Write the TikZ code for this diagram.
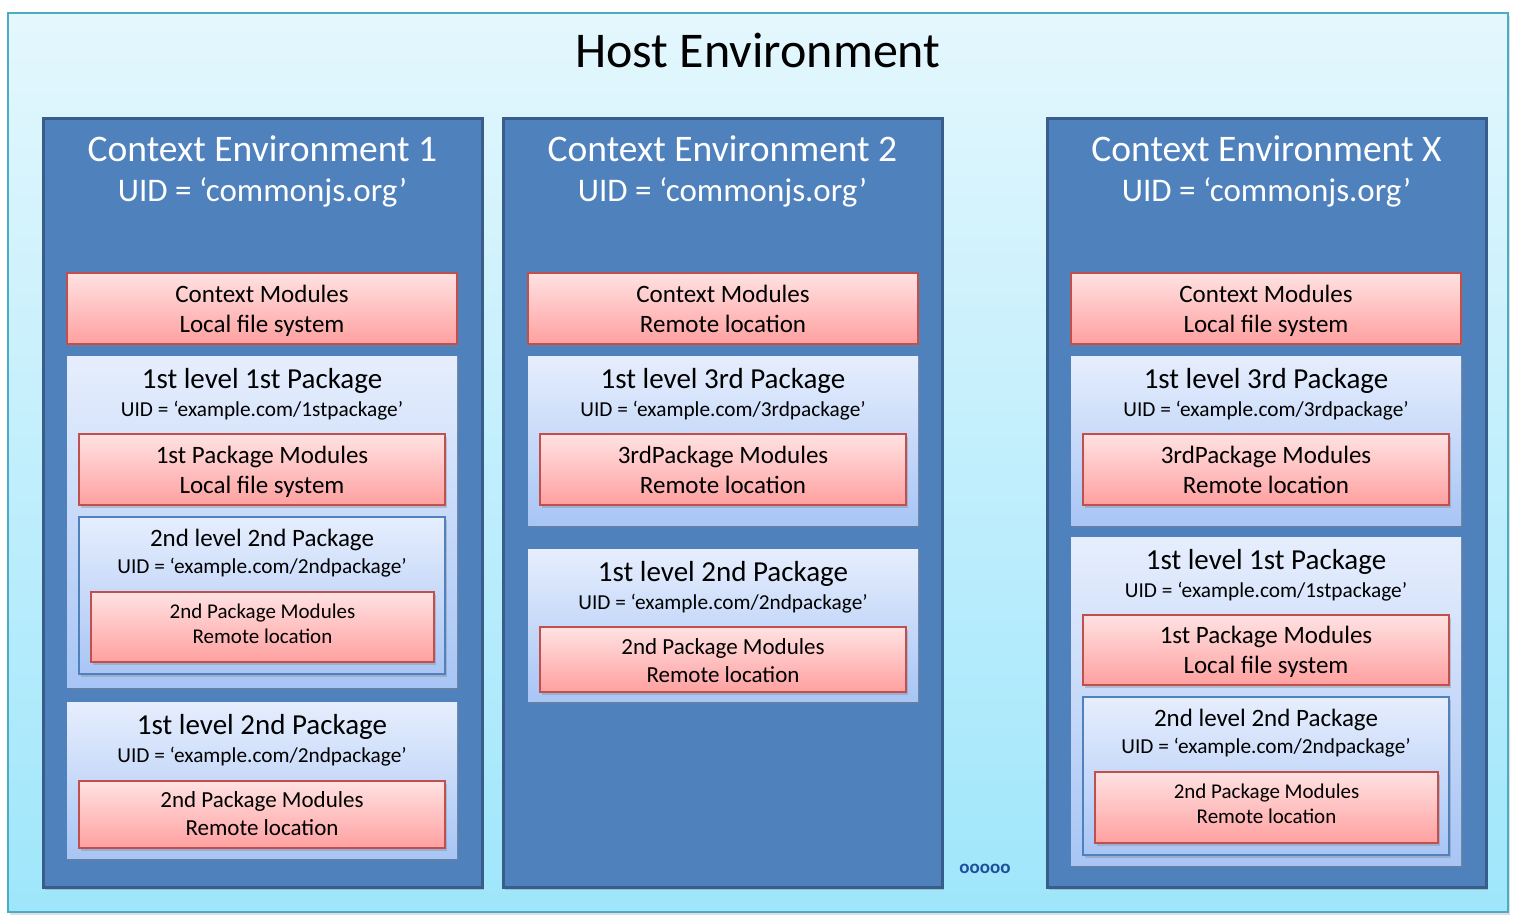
\documentclass[tikz,border=0pt]{standalone}
\usepackage{fontspec}
\setmainfont{Carlito}
\usetikzlibrary{shadows}
\definecolor{hostline}{HTML}{4BACC6}
\definecolor{hosttop}{HTML}{E4F7FD}
\definecolor{hostbot}{HTML}{9FE6FB}
\definecolor{envfill}{HTML}{4F81BD}
\definecolor{envline}{HTML}{385D8A}
\definecolor{pkgtop}{HTML}{E6EEFD}
\definecolor{pkgbot}{HTML}{A8C5F5}
\definecolor{modtop}{HTML}{FFE2E2}
\definecolor{modbot}{HTML}{FFA0A0}
\definecolor{modline}{HTML}{C0504D}
\definecolor{dotcol}{HTML}{1F4E9C}
\newcommand\mybox[6]{%
  \node[#1, minimum width={(#5-#3)*1pt}, minimum height={(#6-#4)*1pt}] (#2) at ({(#3+#5)/2},{(#4+#6)/2}) {};}
\newcommand\modtxt[4]{% style, box name, shift, text
  \node[#1] (#2t) at ([yshift=#3]#2.center) {#4};}
\tikzset{
  shd/.style={drop shadow={opacity=0.35, shadow xshift=1.5pt, shadow yshift=-2.5pt}},
  hostbox/.style={draw=hostline, line width=2pt, top color=hosttop, bottom color=hostbot, inner sep=0pt,
    drop shadow={opacity=0.25, shadow xshift=2pt, shadow yshift=-3pt}},
  envbox/.style={draw=envline, line width=3pt, fill=envfill, inner sep=0pt, shd},
  pkgbox/.style={top color=pkgtop, bottom color=pkgbot, inner sep=0pt, shd},
  subbox/.style={draw=envfill, line width=2pt, top color=pkgtop, bottom color=pkgbot, inner sep=0pt, shd},
  modbox/.style={draw=modline, line width=2pt, top color=modtop, bottom color=modbot, inner sep=0pt, shd},
  tA/.style={align=center, inner sep=0pt, font=\fontsize{25}{30}\selectfont},
  tB/.style={align=center, inner sep=0pt, font=\fontsize{23}{28}\selectfont},
  tC/.style={align=center, inner sep=0pt, font=\fontsize{21}{25}\selectfont},
  hosttitle/.style={font=\fontsize{50}{58}\selectfont, inner sep=0pt},
  envtitle/.style={font=\fontsize{37.5}{44}\selectfont, text=white, inner sep=0pt},
  envuid/.style={font=\fontsize{33}{39}\selectfont, text=white, inner sep=0pt},
  pkgtitle/.style={font=\fontsize{29}{34}\selectfont, inner sep=0pt},
  subtitle/.style={font=\fontsize{25}{30}\selectfont, inner sep=0pt},
  pkguid/.style={font=\fontsize{21.3}{25}\selectfont, inner sep=0pt},
}
\begin{document}
\begin{tikzpicture}[x=1pt,y=-1pt]
\useasboundingbox[fill=white] (0,0) rectangle (1516,922);
% host
\mybox{hostbox}{host}{8}{13}{1508}{912}
\node[hosttitle] (hostT) at (758,50) {Host Environment};
% environments
\mybox{envbox}{env1}{43}{118}{482}{887}
\mybox{envbox}{env2}{503}{118}{942}{887}
\mybox{envbox}{envX}{1047}{118}{1486}{887}
\node[envtitle] (env1T) at (262.5,149) {Context Environment 1};
\node[envuid] (env1U) at (262.5,192.5) {UID = ‘commonjs.org’};
\node[envtitle] (env2T) at (722.5,149) {Context Environment 2};
\node[envuid] (env2U) at (722.5,192.5) {UID = ‘commonjs.org’};
\node[envtitle] (envXT) at (1266.5,149) {Context Environment X};
\node[envuid] (envXU) at (1266.5,192.5) {UID = ‘commonjs.org’};
% ---- env 1
\mybox{modbox}{c1}{67}{273}{457}{344}
\modtxt{tA}{c1}{-2pt}{Context Modules\\Local file system}
\mybox{pkgbox}{p11}{67}{356}{457}{687}
\node[pkgtitle] (p11T) at (262,381) {1st level 1st Package};
\node[pkguid] (p11U) at (262,411) {UID = ‘example.com/1stpackage’};
\mybox{modbox}{m11}{79}{434}{445}{505}
\modtxt{tA}{m11}{-2pt}{1st Package Modules\\Local file system}
\mybox{subbox}{s12}{79}{517}{445}{674}
\node[subtitle] (s12T) at (262,540) {2nd level 2nd Package};
\node[pkguid] (s12U) at (262,568) {UID = ‘example.com/2ndpackage’};
\mybox{modbox}{m12}{91}{592}{434}{662}
\modtxt{tC}{m12}{3pt}{2nd Package Modules\\Remote location}
\mybox{pkgbox}{p12}{67}{702}{457}{858}
\node[pkgtitle] (p12T) at (262,727) {1st level 2nd Package};
\node[pkguid] (p12U) at (262,757) {UID = ‘example.com/2ndpackage’};
\mybox{modbox}{m13}{79}{781}{445}{848}
\modtxt{tB}{m13}{1pt}{2nd Package Modules\\Remote location}
% ---- env 2
\mybox{modbox}{c2}{528}{273}{918}{344}
\modtxt{tA}{c2}{0pt}{Context Modules\\Remote location}
\mybox{pkgbox}{p21}{528}{356}{918}{525}
\node[pkgtitle] (p21T) at (723,381) {1st level 3rd Package};
\node[pkguid] (p21U) at (723,411) {UID = ‘example.com/3rdpackage’};
\mybox{modbox}{m21}{540}{434}{906}{505}
\modtxt{tA}{m21}{0pt}{3rdPackage Modules\\Remote location}
\mybox{pkgbox}{p22}{528}{549}{918}{701}
\node[pkgtitle] (p22T) at (723,574) {1st level 2nd Package};
\node[pkguid] (p22U) at (723,604) {UID = ‘example.com/2ndpackage’};
\mybox{modbox}{m22}{540}{627}{906}{692}
\modtxt{tB}{m22}{-1.5pt}{2nd Package Modules\\Remote location}
% ---- env X
\mybox{modbox}{cX}{1071}{273}{1461}{344}
\modtxt{tA}{cX}{-2pt}{Context Modules\\Local file system}
\mybox{pkgbox}{pX1}{1071}{356}{1461}{525}
\node[pkgtitle] (pX1T) at (1266,381) {1st level 3rd Package};
\node[pkguid] (pX1U) at (1266,411) {UID = ‘example.com/3rdpackage’};
\mybox{modbox}{mX1}{1083}{434}{1449}{505}
\modtxt{tA}{mX1}{0pt}{3rdPackage Modules\\Remote location}
\mybox{pkgbox}{pX2}{1071}{537}{1461}{865}
\node[pkgtitle] (pX2T) at (1266,562) {1st level 1st Package};
\node[pkguid] (pX2U) at (1266,592) {UID = ‘example.com/1stpackage’};
\mybox{modbox}{mX2}{1083}{615}{1449}{685}
\modtxt{tA}{mX2}{-2pt}{1st Package Modules\\Local file system}
\mybox{subbox}{sX3}{1083}{697}{1449}{855}
\node[subtitle] (sX3T) at (1266,720) {2nd level 2nd Package};
\node[pkguid] (sX3U) at (1266,748) {UID = ‘example.com/2ndpackage’};
\mybox{modbox}{mX3}{1095}{772}{1438}{843}
\modtxt{tC}{mX3}{4pt}{2nd Package Modules\\Remote location}
% dots
\node[font=\fontsize{19}{21}\bfseries, text=dotcol, inner sep=0pt] (dots) at (985,869) {ooooo};
\end{tikzpicture}
\end{document}
